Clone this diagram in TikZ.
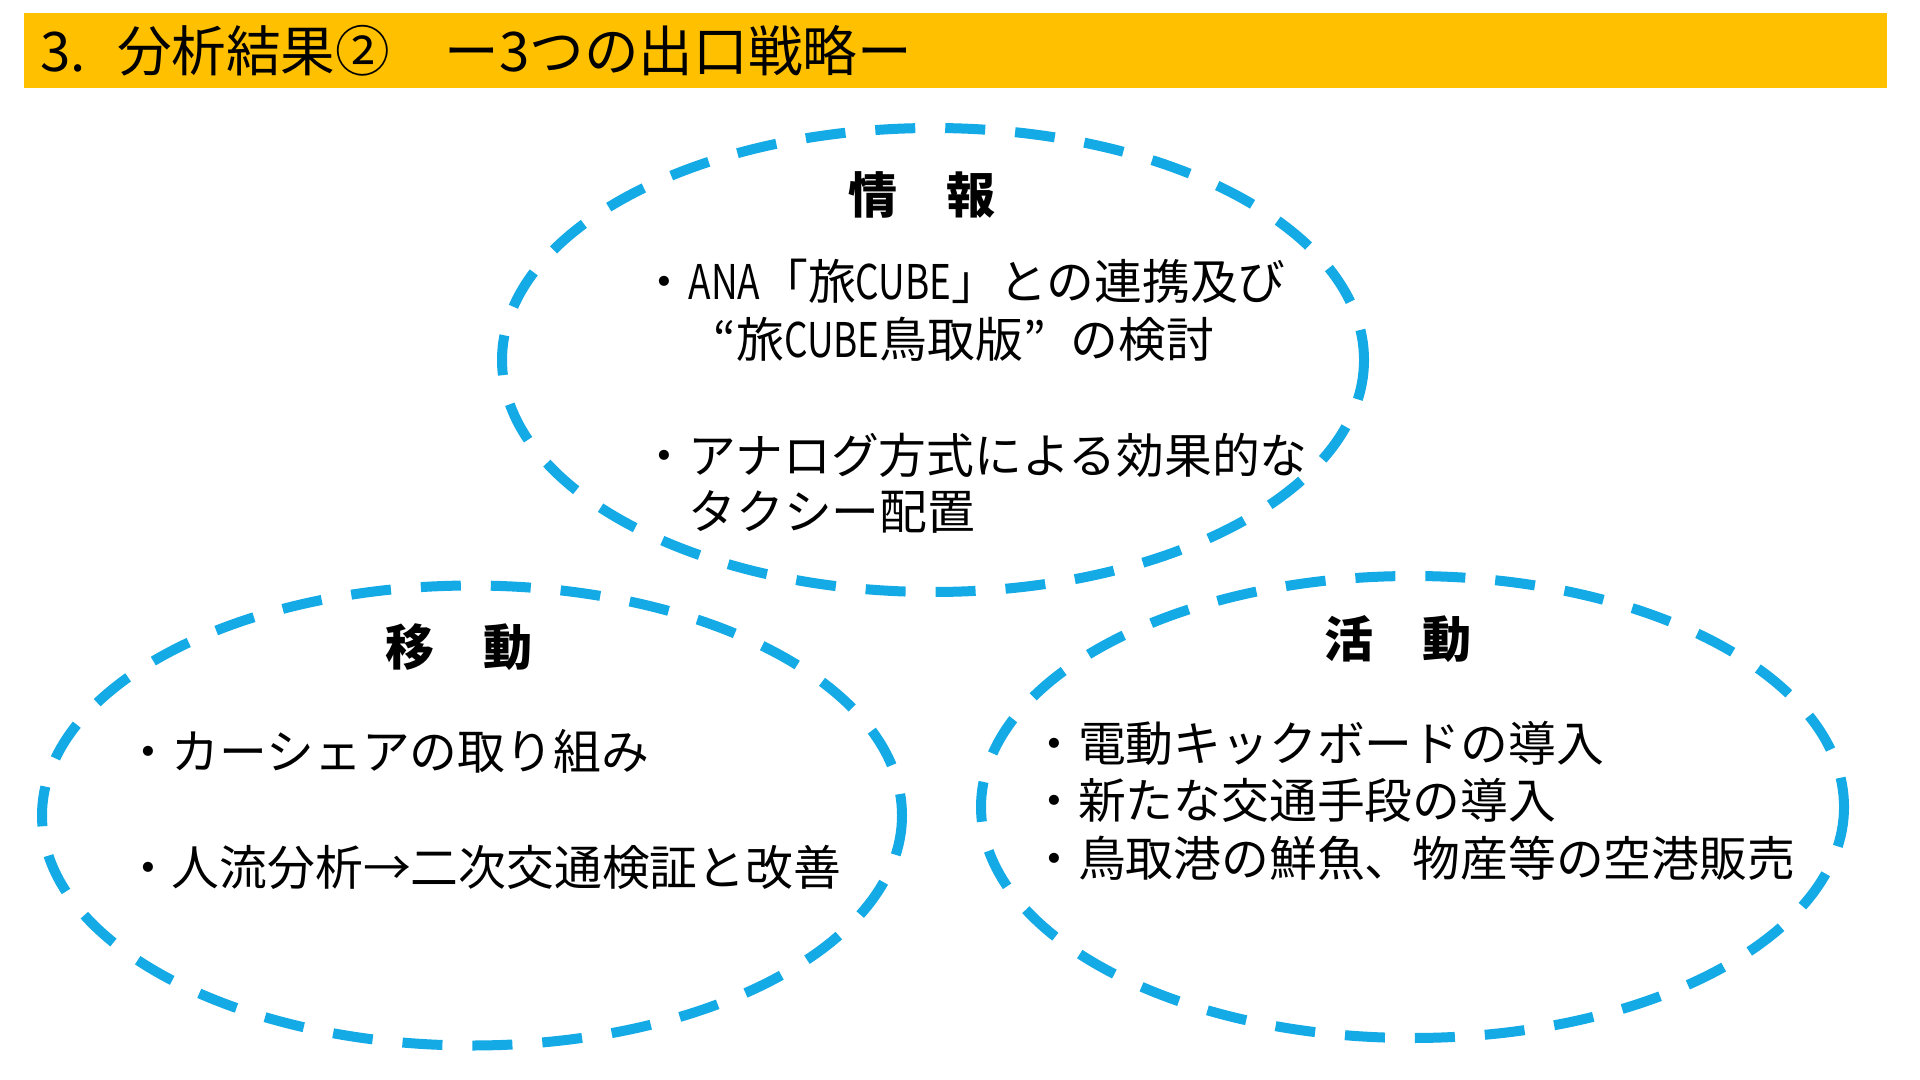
\documentclass[tikz,border=0pt]{standalone}
\usepackage{fontspec}
\setmainfont{Noto Sans CJK JP}
\usepackage{graphicx}
\definecolor{barfill}{RGB}{255,192,0}
\definecolor{ringblue}{RGB}{20,170,230}
\newcommand\hwid[2]{\resizebox{#2em}{\height}{#1}}
\tikzset{
  ring/.style={draw=ringblue, line width=5pt, dash pattern=on 20pt off 15pt},
  titletext/.style={anchor=west, inner sep=0pt, text height=24pt, text depth=3.3pt,
    font=\fontsize{27.3pt}{32pt}\selectfont},
  headtext/.style={anchor=center, inner sep=0pt, text height=21.6pt, text depth=2.9pt,
    font=\fontsize{24.5pt}{29pt}\selectfont\bfseries},
  bodytext/.style={anchor=west, inner sep=0pt, text height=21pt, text depth=2.9pt,
    font=\fontsize{23.9pt}{28.7pt}\selectfont},
}
\begin{document}
\begin{tikzpicture}[x=0.5pt,y=-0.5pt]
\useasboundingbox[fill=white] (0,0) rectangle (1920,1080);
% title bar
\fill[barfill] (24,13) rectangle (1887,88);
\node[titletext] (title) at (40,51) {3\makebox[0.85em][l]{.}分析結果②　ー3つの出口戦略ー};
% ellipses
\draw[ring] (933,360) ellipse [x radius=431, y radius=232];
\draw[ring] (472,815.5) ellipse [x radius=430, y radius=230];
\draw[ring] (1412.5,807) ellipse [x radius=431.5, y radius=231];
% top: info
\node[headtext] (h1) at (921.5,195) {情　報};
\node[bodytext] (t1a) at (640.4,281.6) {・\hwid{ANA}{1.5}「旅\hwid{CUBE}{2}」との連携及び};
\node[bodytext] (t1b) at (688,339.2) {\makebox[1em][r]{“}旅\hwid{CUBE}{2}鳥取版\makebox[1em][l]{”}の検討};
\node[bodytext] (t2a) at (640.4,455.5) {・アナログ方式による効果的な};
\node[bodytext] (t2b) at (688,511.8) {タクシー配置};
% left: movement
\node[headtext] (h2) at (459,647) {移　動};
\node[bodytext] (l1) at (123.7,751.8) {・カーシェアの取り組み};
\node[bodytext] (l2) at (123.7,867) {・人流分析→二次交通検証と改善};
% right: activity
\node[headtext] (h3) at (1398,639) {活　動};
\node[bodytext] (r1) at (1029.8,743.3) {・電動キックボードの導入};
\node[bodytext] (r2) at (1029.8,800.8) {・新たな交通手段の導入};
\node[bodytext] (r3) at (1029.8,858.4) {・鳥取港の鮮魚、物産等の空港販売};
\end{tikzpicture}
\end{document}
